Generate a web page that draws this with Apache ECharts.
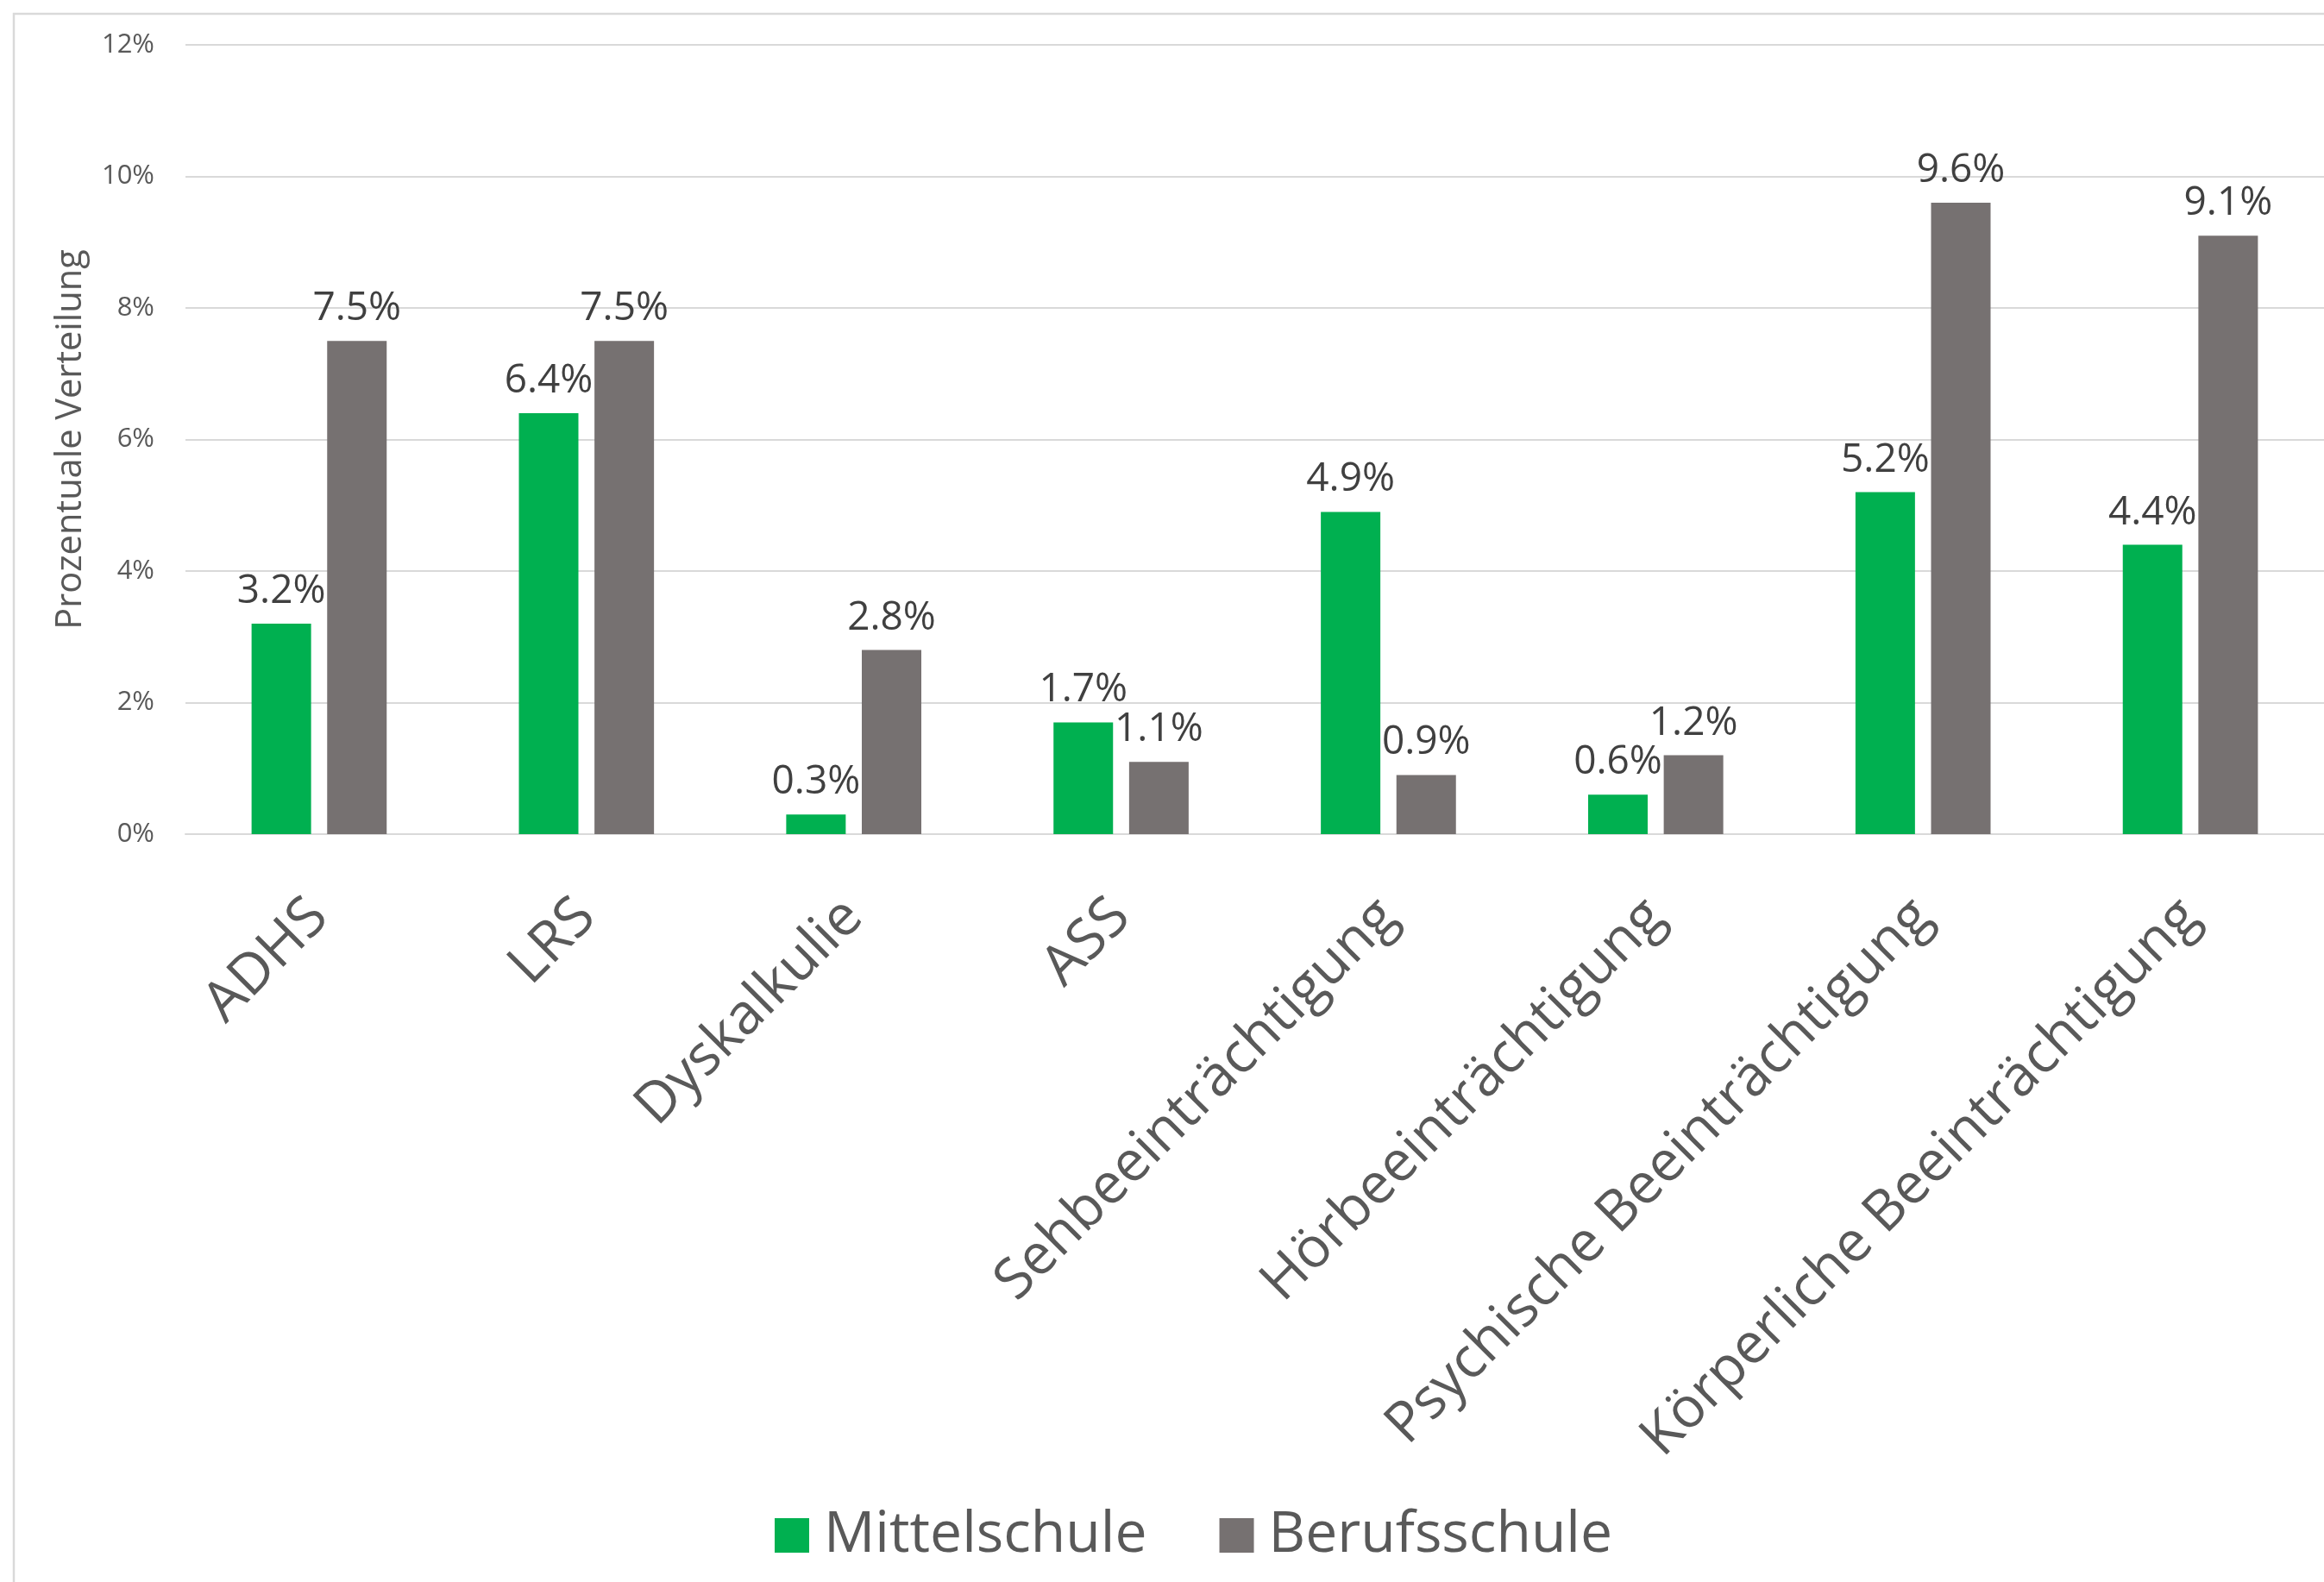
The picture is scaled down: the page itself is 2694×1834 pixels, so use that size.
<!DOCTYPE html>
<html>
<head>
<meta charset="utf-8">
<script src="https://cdn.jsdelivr.net/npm/echarts@6/dist/echarts.min.js"></script>
<style>
html,body{margin:0;padding:0;background:#fff;}
#chart{width:2694px;height:1834px;}
</style>
</head>
<body>
<div id="chart"></div>
<script>
const categories = ['ADHS','LRS','Dyskalkulie','ASS','Sehbeeinträchtigung','Hörbeeinträchtigung','Psychische Beeinträchtigung','Körperliche Beeinträchtigung'];
const mittelschule = [3.2, 6.4, 0.3, 1.7, 4.9, 0.6, 5.2, 4.4];
const berufsschule = [7.5, 7.5, 2.8, 1.1, 0.9, 1.2, 9.6, 9.1];
const seriesNames = ['Mittelschule','Berufsschule'];
const yTicks = {min: 0, max: 12, interval: 2};

const FONT = 'Open Sans';
const chart = echarts.init(document.getElementById('chart'));
const labelCfg = {
  show: true, position: 'top', distance: 14,
  fontFamily: FONT, fontSize: 46, color: '#404040',
  formatter: p => p.value.toFixed(1) + '%'
};
chart.setOption({
  animation: false,
  backgroundColor: '#fff',
  textStyle: {fontFamily: FONT},
  graphic: [{
    type: 'rect', silent: true, z: -1,
    shape: {x: 16, y: 16, width: 2800, height: 1900},
    style: {fill: 'none', stroke: '#D9D9D9', lineWidth: 2.5}
  }],
  grid: {left: 215, top: 52, width: 2480, height: 915, containLabel: false},
  legend: {
    data: seriesNames, left: 893, top: 1742,
    itemWidth: 40, itemHeight: 40, itemGap: 84,
    icon: 'rect',
    textStyle: {fontFamily: FONT, fontSize: 66, color: '#595959', padding: [0,0,0,12]}
  },
  xAxis: {
    type: 'category', data: categories,
    axisLine: {lineStyle: {color: '#D9D9D9', width: 2}},
    axisTick: {show: false},
    axisLabel: {interval: 0, rotate: 45, margin: 86, fontFamily: FONT, fontSize: 65, color: '#595959'}
  },
  yAxis: {
    type: 'value', min: yTicks.min, max: yTicks.max, interval: yTicks.interval,
    name: 'Prozentuale Verteilung', nameLocation: 'middle', nameRotate: 90, nameGap: 112,
    nameTextStyle: {fontFamily: FONT, fontSize: 41.5, color: '#595959'},
    axisLine: {show: false}, axisTick: {show: false},
    axisLabel: {formatter: '{value}%', margin: 36, fontFamily: FONT, fontSize: 31, color: '#595959'},
    splitLine: {lineStyle: {color: '#D9D9D9', width: 2}}
  },
  series: [
    {name: seriesNames[0], type: 'bar', data: mittelschule, barWidth: 69, barGap: '27%',
     itemStyle: {color: '#00B050'}, label: labelCfg},
    {name: seriesNames[1], type: 'bar', data: berufsschule, barWidth: 69, barGap: '27%',
     itemStyle: {color: '#767171'}, label: labelCfg}
  ]
});
</script>
</body>
</html>
